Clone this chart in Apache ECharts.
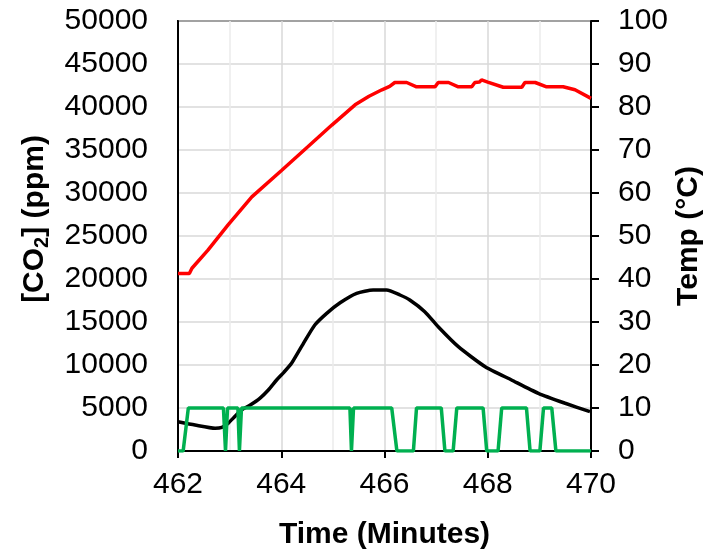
<!DOCTYPE html>
<html>
<head>
<meta charset="utf-8">
<script src="https://cdn.jsdelivr.net/npm/echarts@6/dist/echarts.min.js"></script>
<style>
  html, body { margin: 0; padding: 0; background: #fff; }
  #chart { width: 708px; height: 549px; }
</style>
</head>
<body>
<div id="chart"></div>
<script>
// time in minutes, CO2 in ppm (left axis)
const co2Time = [462.0, 462.33, 462.72, 462.85, 462.97, 463.1, 463.23, 463.4, 463.59, 463.75, 463.91, 464.05, 464.2, 464.43, 464.65, 464.88, 465.14, 465.46, 465.78, 466.04, 466.3, 466.49, 466.78, 467.04, 467.43, 467.95, 468.46, 468.98, 469.5, 469.98];
const co2Ppm = [3400, 3020, 2650, 2750, 3220, 4000, 4770, 5350, 6150, 7090, 8256, 9150, 10200, 12520, 14650, 16010, 17240, 18340, 18720, 18720, 18140, 17560, 16200, 14450, 12130, 9800, 8260, 6710, 5550, 4570];

// temperature in °C (right axis)
const tempTime = [462.0, 462.22, 462.27, 462.58, 462.97, 463.43, 464.01, 464.52, 464.98, 465.43, 465.7, 465.95, 466.1, 466.2, 466.43, 466.62, 466.98, 467.04, 467.24, 467.43, 467.69, 467.75, 467.84, 467.88, 468.0, 468.3, 468.66, 468.72, 468.92, 469.14, 469.46, 469.69, 470.0];
const tempC = [41.3, 41.3, 42.5, 46.7, 52.6, 59.1, 65.3, 70.8, 75.8, 80.5, 82.5, 84.0, 84.8, 85.7, 85.7, 84.7, 84.7, 85.7, 85.7, 84.7, 84.7, 85.7, 85.8, 86.3, 85.8, 84.6, 84.6, 85.7, 85.7, 84.7, 84.7, 84.0, 82.0];

// on/off state (right axis, 10 = on)
const stateTime = [462.0, 462.1, 462.2, 462.88, 462.92, 462.96, 463.16, 463.19, 463.23, 465.33, 465.36, 465.4, 466.14, 466.24, 466.56, 466.62, 467.1, 467.17, 467.33, 467.4, 467.91, 467.98, 468.2, 468.27, 468.75, 468.82, 469.01, 469.08, 469.24, 469.32, 470.0];
const stateVal = [0, 0, 10, 10, 0, 10, 10, 0, 10, 10, 0, 10, 10, 0, 0, 10, 10, 0, 0, 10, 10, 0, 0, 10, 10, 0, 0, 10, 10, 0, 0];

const pairs = (xs, ys) => xs.map((x, i) => [x, ys[i]]);

const FONT = 'Liberation Sans, Arial, sans-serif';
const labelStyle = { color: '#000', fontSize: 30, fontFamily: FONT, formatter: (v) => String(v) };
const titleStyle = { color: '#000', fontSize: 30, fontWeight: 'bold', fontFamily: FONT };

const chart = echarts.init(document.getElementById('chart'));

chart.setOption({
  animation: false,
  grid: {
    left: 178,
    right: 117,
    top: 21,
    bottom: 98,
    outerBoundsMode: 'none',
    containLabel: false,
    show: true,
    borderColor: '#000',
    borderWidth: 2,
    backgroundColor: 'transparent'
  },
  xAxis: {
    type: 'value',
    min: 462,
    max: 470,
    interval: 2,
    name: 'Time (Minutes)',
    nameLocation: 'middle',
    nameGap: 69,
    nameMoveOverlap: false,
    nameTextStyle: titleStyle,
    axisLine: { show: true, lineStyle: { color: '#000', width: 2 } },
    axisTick: { show: true, length: 7, lineStyle: { color: '#000', width: 2 } },
    axisLabel: Object.assign({ margin: 19 }, labelStyle),
    splitLine: { show: true, lineStyle: { color: '#d9d9d9', width: 1.5 } },
    minorTick: { show: false, splitNumber: 2 },
    minorSplitLine: { show: true, lineStyle: { color: '#ececec', width: 1.5 } }
  },
  yAxis: [
    {
      type: 'value',
      min: 0,
      max: 50000,
      interval: 5000,
      name: '{b|[CO}{s|2}{b|] (ppm)}',
      nameLocation: 'middle',
      nameRotate: 90,
      nameGap: 126,
      nameMoveOverlap: false,
      nameTextStyle: {
        padding: [0, 0, 0, 34],
        rich: {
          b: titleStyle,
          s: Object.assign({}, titleStyle, { fontSize: 20, verticalAlign: 'bottom', padding: [14, 0, 0, 0] })
        }
      },
      axisLine: { show: true, lineStyle: { color: '#000', width: 2 } },
      axisTick: { show: false },
      axisLabel: Object.assign({ margin: 30 }, labelStyle),
      splitLine: { show: true, lineStyle: { color: '#d9d9d9', width: 1.5 } }
    },
    {
      type: 'value',
      min: 0,
      max: 100,
      interval: 10,
      position: 'right',
      name: 'Temp (°C)',
      nameLocation: 'middle',
      nameRotate: 90,
      nameGap: 83,
      nameMoveOverlap: false,
      nameTextStyle: titleStyle,
      axisLine: { show: true, lineStyle: { color: '#000', width: 2 } },
      axisTick: { show: true, length: 8, lineStyle: { color: '#000', width: 2 } },
      axisLabel: Object.assign({ margin: 27 }, labelStyle),
      splitLine: { show: false }
    }
  ],
  series: [
    {
      name: 'CO2',
      type: 'line',
      yAxisIndex: 0,
      data: pairs(co2Time, co2Ppm),
      smooth: 0.2,
      showSymbol: false,
      lineStyle: { color: '#000', width: 3.5 }
    },
    {
      name: 'Temp',
      type: 'line',
      yAxisIndex: 1,
      data: pairs(tempTime, tempC),
      showSymbol: false,
      lineStyle: { color: '#ff0000', width: 3.5 }
    },
    {
      name: 'State',
      type: 'line',
      yAxisIndex: 1,
      data: pairs(stateTime, stateVal),
      showSymbol: false,
      lineStyle: { color: '#00b050', width: 3.5 }
    }
  ]
});
</script>
</body>
</html>
